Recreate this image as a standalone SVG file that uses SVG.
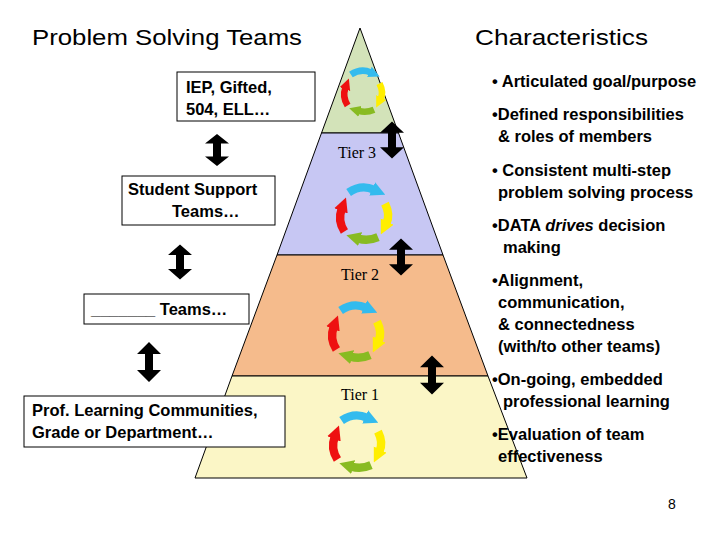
<svg xmlns="http://www.w3.org/2000/svg" xmlns:xlink="http://www.w3.org/1999/xlink" width="720" height="540" viewBox="0 0 720 540">
<style>
.t{font-family:"Liberation Sans",Arial,sans-serif;fill:#000}
.h{font-size:22px}
.b{font-size:16.5px;font-weight:bold}
.tier{font-family:"Liberation Serif","Times New Roman",serif;font-size:16px}
.box{fill:#fff;stroke:#000;stroke-width:1}
.arc{fill:none;stroke-width:6}
</style>
<defs>
<marker id="mB" viewBox="0 0 4 4" refX="0.5" refY="2" markerWidth="1.7" markerHeight="2" orient="auto"><path d="M0,0L4,2L0,4z" fill="#33bbee"/></marker>
<marker id="mY" viewBox="0 0 4 4" refX="0.5" refY="2" markerWidth="1.7" markerHeight="2" orient="auto"><path d="M0,0L4,2L0,4z" fill="#ffee00"/></marker>
<marker id="mG" viewBox="0 0 4 4" refX="0.5" refY="2" markerWidth="1.7" markerHeight="2" orient="auto"><path d="M0,0L4,2L0,4z" fill="#88bb22"/></marker>
<marker id="mR" viewBox="0 0 4 4" refX="0.5" refY="2" markerWidth="1.7" markerHeight="2" orient="auto"><path d="M0,0L4,2L0,4z" fill="#ee1111"/></marker>
<g id="cyc">
<path class="arc" d="M-11,-14 Q-2,-20 7,-16" stroke="#33bbee" marker-end="url(#mB)"/>
<path class="arc" d="M15,-6 Q19,2 16,8" stroke="#ffee00" marker-end="url(#mY)"/>
<path class="arc" d="M10,18 Q3,21 -4,19" stroke="#88bb22" marker-end="url(#mG)"/>
<path class="arc" d="M-14,14 Q-19,6 -16,-2" stroke="#ee1111" marker-end="url(#mR)"/>
</g>
<path id="dbl" d="M0,-20L-12,-8L-4,-8L-4,8L-12,8L0,20L12,8L4,8L4,-8L12,-8z" fill="#000"/>
</defs>
<rect width="720" height="540" fill="#fff"/>
<g id="pyramid" stroke="#000" stroke-width="1">
<polygon points="360,28 398.5,133 321.5,133" fill="#d3e3b9"/>
<polygon points="321.5,133 398.5,133 443,255 277,255" fill="#c7c7f3"/>
<polygon points="277,255 443,255 488,376 232,376" fill="#f5bb8c"/>
<polygon points="232,376 488,376 527,478 195,478" fill="#fbf6c6"/>
</g>
<g id="cycles">
<use xlink:href="#cyc" transform="translate(363,90) scale(1.1)"/>
<use xlink:href="#cyc" transform="translate(364,212) scale(1.4)"/>
<use xlink:href="#cyc" transform="translate(356,330) scale(1.4)"/>
<use xlink:href="#cyc" transform="translate(357,440) scale(1.4)"/>
</g>
<text class="tier" x="338" y="158">Tier 3</text>
<text class="tier" x="341" y="280">Tier 2</text>
<text class="tier" x="341" y="400">Tier 1</text>
<text class="t h" x="32" y="45" textLength="270" lengthAdjust="spacingAndGlyphs">Problem Solving Teams</text>
<text class="t h" x="475" y="45" textLength="173" lengthAdjust="spacingAndGlyphs">Characteristics</text>
<g id="n1"><rect class="box" x="177" y="72" width="138" height="49"/><text class="t b" x="186" y="93">IEP, Gifted,</text><text class="t b" x="186" y="115">504, ELL…</text></g>
<g id="n2"><rect class="box" x="122" y="176" width="153" height="49"/><text class="t b" x="128" y="195">Student Support</text><text class="t b" x="172" y="217">Teams…</text></g>
<g id="n3"><rect class="box" x="84" y="294" width="165" height="30"/><text class="t b" x="91" y="315">_______ Teams…</text></g>
<g id="n4"><rect class="box" x="24" y="396" width="261" height="51"/><text class="t b" x="32" y="416">Prof. Learning Communities,</text><text class="t b" x="32" y="438">Grade or Department…</text></g>
<g id="connectors">
<use xlink:href="#dbl" transform="translate(217,150) scale(1,0.8)"/>
<use xlink:href="#dbl" transform="translate(180,262) scale(1,0.88)"/>
<use xlink:href="#dbl" transform="translate(149,362) scale(1,1)"/>
<use xlink:href="#dbl" transform="translate(392,140) scale(1,0.92)"/>
<use xlink:href="#dbl" transform="translate(401,257) scale(1,0.92)"/>
<use xlink:href="#dbl" transform="translate(432,375) scale(1,0.98)"/>
</g>
<g class="t b">
<text x="492" y="87">• Articulated goal/purpose</text>
<text x="492" y="120">•Defined responsibilities</text>
<text x="498" y="142">&amp; roles of members</text>
<text x="492" y="176">• Consistent multi-step</text>
<text x="498" y="198">problem solving process</text>
<text x="492" y="231">•DATA <tspan font-style="italic">drives</tspan> decision</text>
<text x="503" y="253">making</text>
<text x="492" y="286">•Alignment,</text>
<text x="498" y="308">communication,</text>
<text x="498" y="330">&amp; connectedness</text>
<text x="498" y="352">(with/to other teams)</text>
<text x="492" y="385">•On-going, embedded</text>
<text x="503" y="407">professional learning</text>
<text x="492" y="440">•Evaluation of team</text>
<text x="498" y="462">effectiveness</text>
</g>
<text class="t" x="668" y="509" font-size="14">8</text>
</svg>
